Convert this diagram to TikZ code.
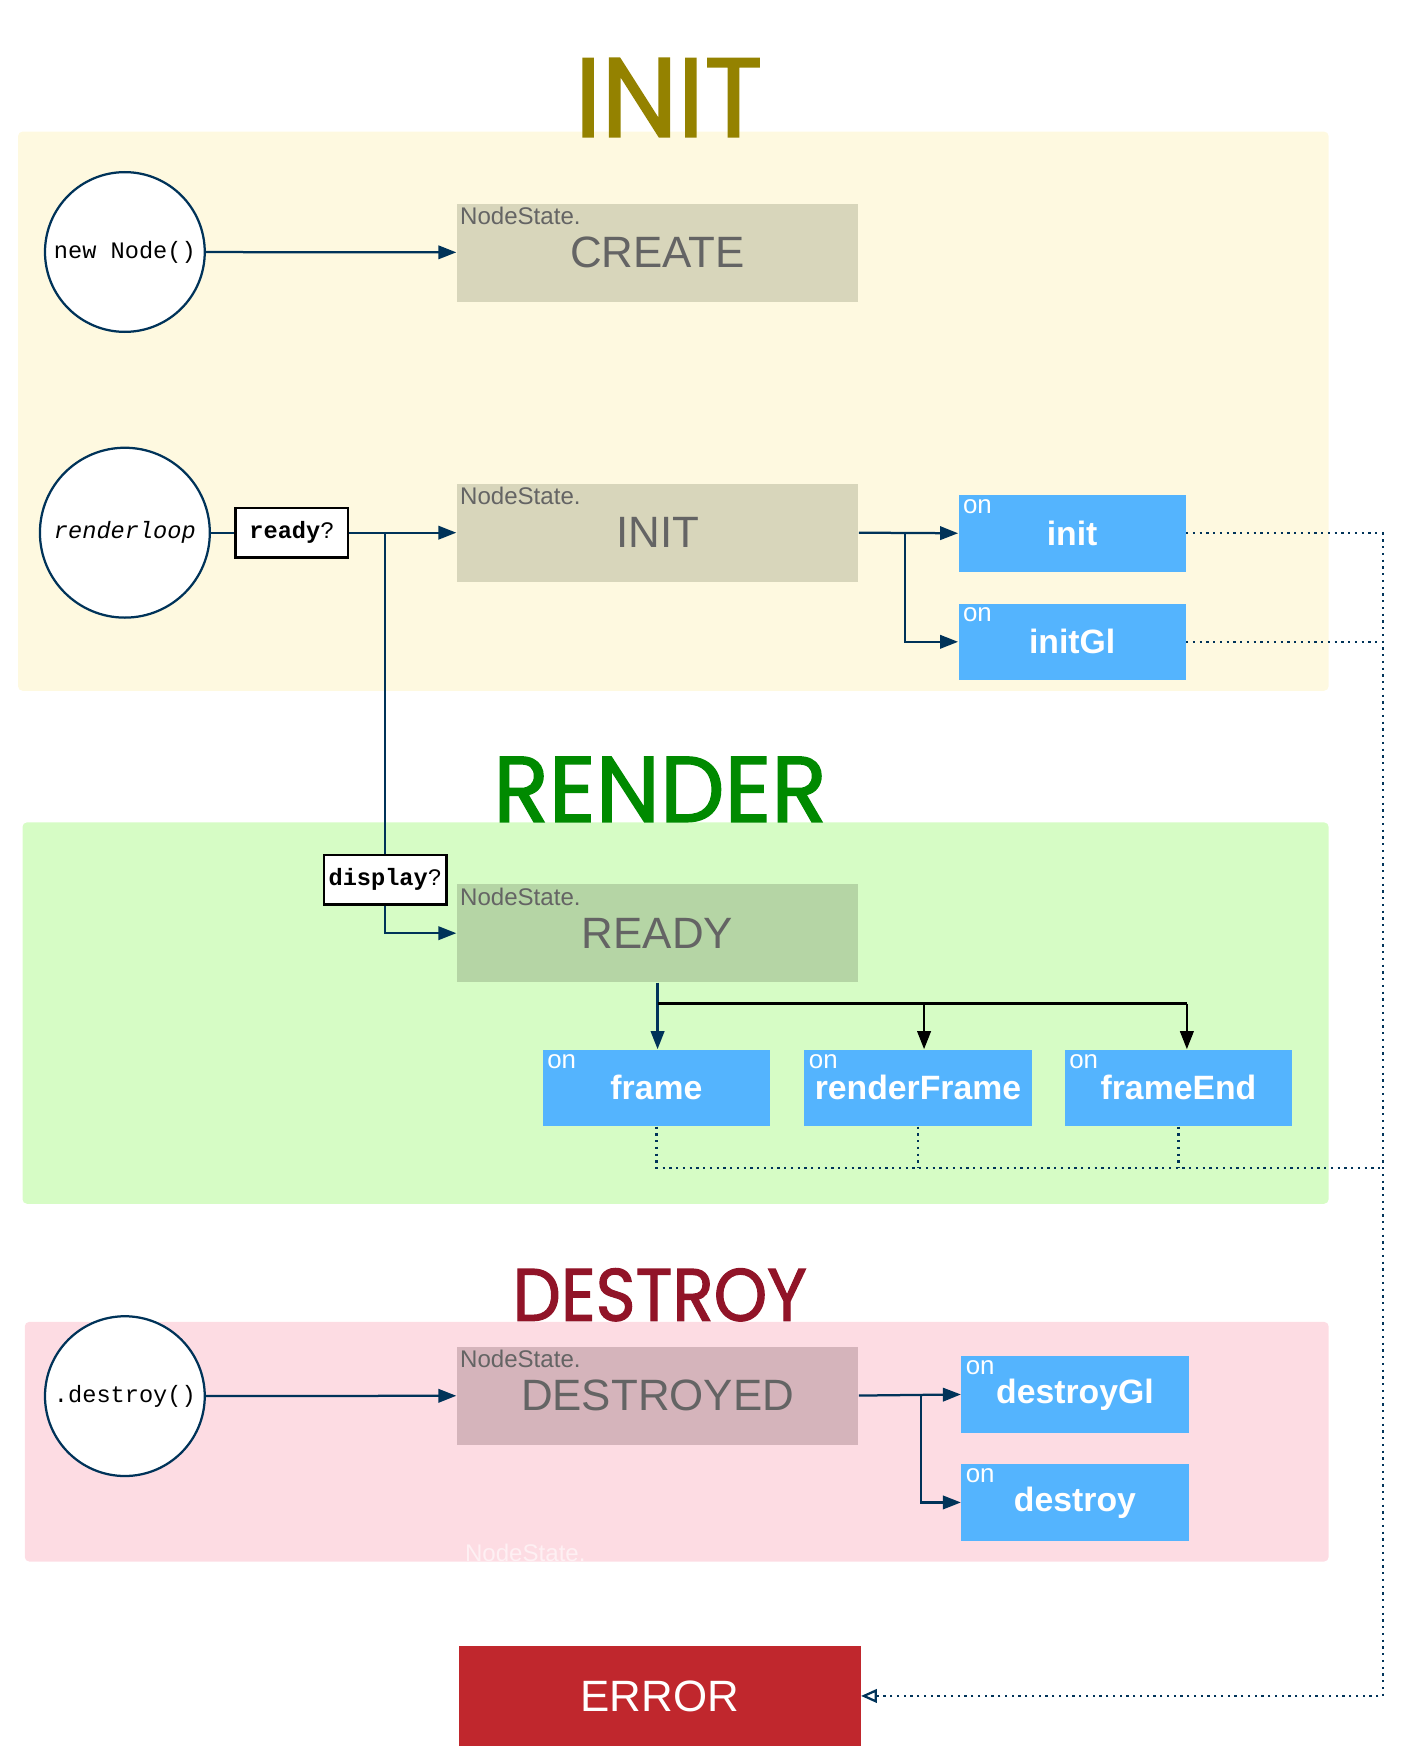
\documentclass[tikz,border=0pt]{standalone}
\usepackage{fontspec}
\usepackage{graphicx}
\setmainfont{Liberation Sans}
\setmonofont{Liberation Mono}
\newfontfamily\titlefont{Poppins}[FakeBold=1.6]
\usetikzlibrary{arrows.meta}

\definecolor{navyline}{HTML}{003359}
\definecolor{initgold}{HTML}{948200}
\definecolor{rendergreen}{HTML}{008A00}
\definecolor{destroyred}{HTML}{911428}
\definecolor{initpanel}{HTML}{FEF9E0}
\definecolor{renderpanel}{HTML}{D6FCC5}
\definecolor{destroypanel}{HTML}{FDDCE3}
\definecolor{initbox}{HTML}{D8D6BB}
\definecolor{readybox}{HTML}{B5D5A5}
\definecolor{destroyedbox}{HTML}{D5B4BB}
\definecolor{eventblue}{HTML}{54B4FE}
\definecolor{errorred}{HTML}{C0272D}
\definecolor{statetext}{HTML}{646464}
\definecolor{ghosttext}{HTML}{FEF0F3}

\begin{document}
\begin{tikzpicture}[x=0.5pt,y=-0.5pt,
  flow/.style={draw=navyline,line width=1pt,-{Triangle[length=8pt,width=6pt]}},
  wire/.style={draw=navyline,line width=1pt},
  busflow/.style={draw=black,line width=1pt,-{Triangle[length=8pt,width=6pt]}},
  signal/.style={draw=navyline,line width=1pt,dash pattern=on 1pt off 2pt},
  panel/.style={rounded corners=2pt},
  caller/.style={circle,draw=navyline,line width=1pt,fill=white,inner sep=0pt,font=\ttfamily\fontsize{10.5}{12}\selectfont},
  guard/.style={draw=black,line width=1.1pt,fill=white,minimum width=50pt,minimum height=22pt,inner sep=1pt,font=\ttfamily\fontsize{10.5}{12}\selectfont},
  statebox/.style={fill=#1,minimum width=178.5pt,minimum height=43.5pt,inner sep=0pt,text=statetext,font=\fontsize{19.5}{22}\selectfont,label={[statetag,anchor=north west]north west:NodeState.}},
  statetag/.style={inner sep=1.5pt,text=statetext,font=\mdseries\fontsize{10.7}{12}\selectfont},
  hook/.style={fill=eventblue,minimum width=101pt,minimum height=34pt,inner sep=0pt,text=white,font=\bfseries\fontsize{15}{18}\selectfont,label={[ontag,anchor=north west]north west:on}},
  ontag/.style={inner sep=2pt,text=white,font=\mdseries\fontsize{11.5}{13}\selectfont},
  phase/.style={anchor=base,inner sep=0pt,text=#1,font=\titlefont}]
  \useasboundingbox (0,0) rectangle (1250,1568);

  % phases
  \fill[panel,initpanel] (16,117) rectangle (1181,614);
  \fill[panel,renderpanel] (20,731) rectangle (1181,1070);
  \fill[panel,destroypanel] (22,1175) rectangle (1181,1388);
  \node[phase=initgold] (inittitle) at (594.5,121.5) {\resizebox{83.5pt}{34.8pt}{INIT}};
  \node[phase=rendergreen] (rendertitle) at (586.8,730.5) {\resizebox{148.2pt}{28.9pt}{RENDER}};
  \node[phase=destroyred] (destroytitle) at (586.5,1174) {\resizebox{130.7pt}{23.3pt}{DESTROY}};

  % init
  \node[caller,minimum size=71pt] (newnode) at (111,224) {new Node()};
  \node[statebox=initbox] (create) at (584.5,224.5) {CREATE};
  \node[caller,minimum size=75.5pt] (renderloop) at (111,473.5) {\itshape renderloop};
  \node[guard] (ready) at (259.5,473.5) {{\bfseries ready}?};
  \node[statebox=initbox] (initstate) at (584.5,473.5) {INIT};
  \node[hook] (oninit) at (953,474) {init};
  \node[hook] (oninitgl) at (953,570.5) {initGl};

  % render
  \node[guard,minimum width=54.5pt] (display) at (342.5,782) {{\bfseries display}?};
  \node[statebox=readybox] (readystate) at (584.5,829.5) {READY};
  \node[hook] (onframe) at (583.5,967) {frame};
  \node[hook] (onrenderframe) at (816,967) {renderFrame};
  \node[hook] (onframeend) at (1047.5,967) {frameEnd};

  % destroy
  \node[caller,minimum size=71pt] (destroycall) at (111,1241) {.destroy()};
  \node[statebox=destroyedbox] (destroyed) at (584.5,1240.5) {DESTROYED};
  \node[hook] (ondestroygl) at (955.5,1239.5) {destroyGl};
  \node[hook] (ondestroy) at (955.5,1335.5) {destroy};
  \node[statetag,text=ghosttext,anchor=base west] (ghosttag) at (410,1388) {NodeState.};

  \node[fill=errorred,minimum width=178.5pt,minimum height=44.5pt,inner sep=0pt,text=white,font=\fontsize{19.5}{22}\selectfont] (error) at (586.5,1507.5) {ERROR};

  \coordinate (bus) at (0,892);
  \coordinate (tick) at (0,1038);
  \coordinate (rail) at (1229,0);

  \draw[flow] (newnode) -- (create);
  \draw[wire] (renderloop) -- (ready);
  \draw[flow] (ready) -- (initstate);
  \draw[wire] (ready.east -| display.north) -- (display.north);
  \draw[flow] (display.south) |- (readystate.west);
  \draw[flow] (initstate.east) -- (oninit.west);
  \draw[flow] ([xshift=20.5pt]initstate.east) |- (oninitgl.west);

  \draw[flow] (readystate.south) -- (readystate.south |- onframe.north);
  \draw[draw=black,line width=1pt] (readystate.south |- bus) -- ([xshift=3.75pt]onframeend.north |- bus);
  \draw[busflow] ([xshift=2.7pt]onrenderframe.north |- bus) -- ([xshift=2.7pt]onrenderframe.north);
  \draw[busflow] ([xshift=3.75pt]onframeend.north |- bus) -- ([xshift=3.75pt]onframeend.north);

  \draw[flow] (destroycall) -- (destroyed);
  \draw[flow] (destroyed.east) -- (ondestroygl.west);
  \draw[flow] ([xshift=27.5pt]destroyed.east) |- (ondestroy.west);

  % error rail
  \draw[signal] (onframe.south) -- (onframe.south |- tick) -- (tick -| rail);
  \draw[signal] (onrenderframe.south) -- (onrenderframe.south |- tick);
  \draw[signal] (onframeend.south) -- (onframeend.south |- tick);
  \draw[signal] (oninitgl.east) -- (oninitgl.east -| rail);
  \draw[signal,-{Triangle[open,length=7pt,width=6pt]}] (oninit.east) -- (oninit.east -| rail) |- (error.east);
\end{tikzpicture}
\end{document}
